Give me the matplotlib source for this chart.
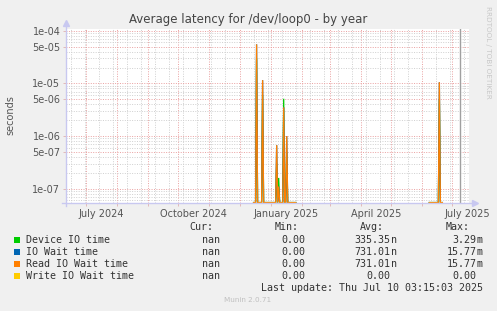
import numpy as np
import pandas as pd
import matplotlib
matplotlib.use("Agg")
import matplotlib.pyplot as plt
import matplotlib.dates as mdates
import matplotlib.ticker as mticker
from matplotlib.lines import Line2D
from matplotlib.patches import Rectangle
from matplotlib.transforms import blended_transform_factory

W, H = 497, 311

# sample dates (one sample a day, nan = no data)
dates = ["2024-12-15", "2024-12-17", "2024-12-18", "2024-12-19", "2024-12-23",
         "2024-12-24", "2024-12-25", "2025-01-06", "2025-01-07", "2025-01-08",
         "2025-01-09", "2025-01-10", "2025-01-13", "2025-01-14", "2025-01-15",
         "2025-01-16", "2025-01-17", "2025-01-18", "2025-01-26", "2025-03-15",
         "2025-06-08", "2025-06-17", "2025-06-18", "2025-06-19", "2025-06-21"]
nan = float("nan")
device_io = [0, 0, 3.0e-5, 0, 0, 6.0e-6, 0, 0, 3.0e-7, 0, 1.6e-7, 0, 0, 5.1e-6, 0,
             0, 5.0e-7, 0, 0, nan, 0, 0, 5.0e-6, 0, 0]
io_wait = [0, 0, 5.5e-5, 0, 0, 1.15e-5, 0, 0, 6.7e-7, 0, 1.1e-7, 0, 0, 3.5e-6, 0,
           0, 1.0e-6, 0, 0, nan, 0, 0, 1.05e-5, 0, 0]
read_wait = io_wait
write_wait = [0, 0, 0, 0, 0, 0, 0, 0, 0, 0, 0, 0, 0, 0, 0,
              0, 0, 0, 0, nan, 0, 0, 0, 0, 0]

names = ["Device IO time", "IO Wait time", "Read IO Wait time", "Write IO Wait time"]
colors = ["#00cc00", "#0066b3", "#ff8000", "#ffcc00"]
cur = ["nan", "nan", "nan", "nan"]
mins = ["0.00", "0.00", "0.00", "0.00"]
avgs = ["335.35n", "731.01n", "731.01n", "0.00"]
maxs = ["3.29m", "15.77m", "15.77m", "0.00"]

month_labels = ["July 2024", "October 2024", "January 2025", "April 2025", "July 2025"]
label_dates = ["2024-07-16", "2024-10-16", "2025-01-16", "2025-04-16", "2025-07-16"]

YMIN, YMAX = 5.35e-8, 1.077e-4
x0, x1 = pd.Timestamp("2024-06-11 06:00"), pd.Timestamp("2025-07-17 12:00")

fig = plt.figure(figsize=(W / 100, H / 100), dpi=100, facecolor="#f0f0f0")
ax = fig.add_axes([66 / W, (H - 203) / H, (469 - 66) / W, (203 - 29) / H])
ax.set_facecolor("white")

t = pd.to_datetime(dates)
for vals, c in zip([device_io, io_wait, read_wait, write_wait], colors):
    v = np.array(vals, dtype=float)
    v = np.where(v > 0, v, np.where(np.isnan(v), np.nan, YMIN * 1.02))
    ax.plot(t, v, color=c, lw=0.9, solid_joinstyle="miter")

# the grey "now" rule
ax.axvline(pd.Timestamp("2025-07-08 12:00"), color="#a0a0a0", lw=1.0)

ax.set_yscale("log")
ax.set_ylim(YMIN, YMAX)
ax.set_xlim(x0, x1)

ax.yaxis.set_major_locator(mticker.FixedLocator([1e-7, 5e-7, 1e-6, 5e-6, 1e-5, 5e-5, 1e-4]))
ax.yaxis.set_major_formatter(mticker.FixedFormatter(
    ["1e-07", "5e-07", "1e-06", "5e-06", "1e-05", "5e-05", "1e-04"]))
ax.yaxis.set_minor_locator(mticker.LogLocator(base=10, subs=[2, 3, 4, 6, 7, 8, 9]))
ax.yaxis.set_minor_formatter(mticker.NullFormatter())

ax.xaxis.set_major_locator(mdates.MonthLocator())
ax.xaxis.set_major_formatter(mticker.NullFormatter())
ax.xaxis.set_minor_locator(mdates.WeekdayLocator(byweekday=mdates.SU, interval=2))

ax.grid(which="major", color="#eaa0a0", ls=(0, (1, 1.5)), lw=0.7)
ax.grid(which="minor", color="#cfcfcf", ls=(0, (1, 1.5)), lw=0.7)
ax.set_axisbelow(True)

for s in ax.spines.values():
    s.set_visible(False)
ax.tick_params(which="both", length=2, width=0.6, color="#e0b0b0",
               labelsize=7, labelcolor="#555555", pad=2)
ax.tick_params(axis="x", which="minor", length=0)
ax.tick_params(axis="y", which="minor", length=0)

tr = blended_transform_factory(ax.transData, ax.transAxes)
for lab, d in zip(month_labels, label_dates):
    ax.text(pd.Timestamp(d), -0.035, lab, transform=tr, ha="center", va="top",
            fontsize=7, color="#555555")

# rrdtool style axes with arrows
axc = "#c8c8f0"
fig.add_artist(Line2D([66 / W, 66 / W], [(H - 206) / H, (H - 24) / H], color=axc, lw=1))
fig.add_artist(Line2D([62 / W, 474 / W], [(H - 203) / H, (H - 203) / H], color=axc, lw=1))
fig.add_artist(Line2D([66 / W], [(H - 23) / H], marker="^", ms=4, color=axc, mec=axc))
fig.add_artist(Line2D([475 / W], [(H - 203) / H], marker=">", ms=4, color=axc, mec=axc))

fig.text(248 / W, 1 - 19 / H, "Average latency for /dev/loop0 - by year", ha="center",
         va="center", fontsize=8.5, color="#444444")
fig.text(10 / W, 1 - 115 / H, "seconds", rotation=90, ha="center", va="center",
         fontsize=7, color="#555555")
fig.text(488 / W, 1 - 6 / H, "RRDTOOL / TOBI OETIKER", rotation=270, ha="center",
         va="top", fontsize=5.2, color="#c8c8c8")

mono = "DejaVu Sans Mono"
fs = 7.2
col_ends = [213, 299, 384, 470]
for hdr, xe in zip(["Cur:", "Min:", "Avg:", "Max:"], col_ends):
    fig.text(xe / W, 1 - 227.5 / H, hdr, ha="right", va="center", family=mono,
             fontsize=fs, color="#333333")

for i, (name, c) in enumerate(zip(names, colors)):
    y = 239.7 + 12 * i
    fig.add_artist(Rectangle((14 / W, 1 - (y + 3) / H), 6 / W, 6 / H,
                             transform=fig.transFigure, color=c, lw=0))
    fig.text(26 / W, 1 - y / H, name, ha="left", va="center", family=mono,
             fontsize=fs, color="#333333")
    for val, xe in zip([cur[i], mins[i], avgs[i], maxs[i]], col_ends):
        num, unit = (val[:-1], val[-1]) if val[-1].isalpha() and val != "nan" else (val, "")
        fig.text((xe + 6.8) / W, 1 - y / H, num, ha="right", va="center", family=mono,
                 fontsize=fs, color="#333333")
        if unit:
            fig.text((xe + 6.8) / W, 1 - y / H, unit, ha="left", va="center",
                     family=mono, fontsize=fs, color="#333333")

fig.text(483 / W, 1 - 287.7 / H, "Last update: Thu Jul 10 03:15:03 2025", ha="right",
         va="center", family=mono, fontsize=fs, color="#333333")
fig.text(248 / W, 1 - 300 / H, "Munin 2.0.71", ha="center", va="center",
         fontsize=5.2, color="#c0c0c0")

fig.savefig("out.png", dpi=100, facecolor=fig.get_facecolor())
